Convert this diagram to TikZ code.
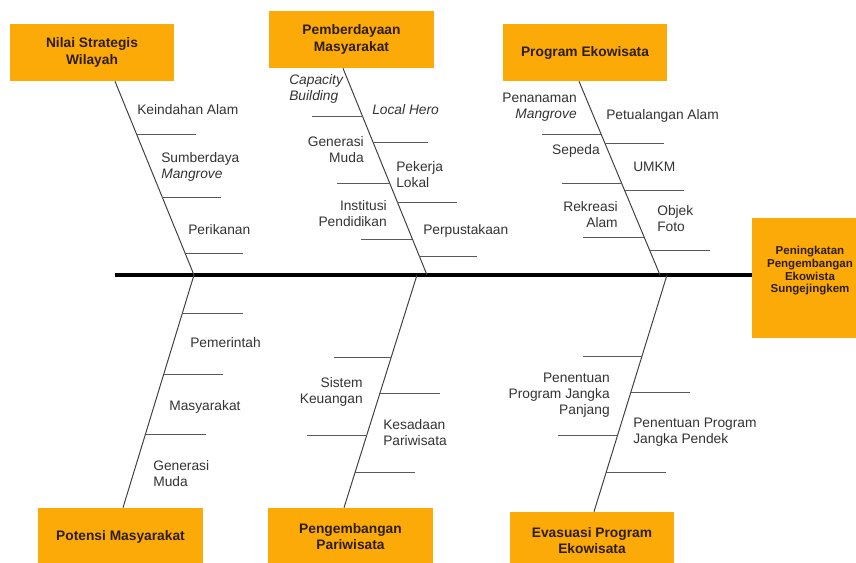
\documentclass[tikz,border=0pt]{standalone}
\usepackage{fontspec}
\setmainfont{Liberation Sans}
\usetikzlibrary{calc}

\definecolor{fishorange}{RGB}{252,170,8}
\definecolor{boxtext}{RGB}{45,30,10}

\tikzset{
  cause/.style={fill=fishorange, minimum width=4.1cm, minimum height=1.425cm,
    align=center, text=boxtext, font=\bfseries\fontsize{9.8}{11.6}\selectfont},
  effect/.style={fill=fishorange, minimum width=2.8cm, minimum height=3cm},
  efftext/.style={align=center, text=boxtext, inner sep=0pt,
    font=\bfseries\fontsize{8.2}{9}\selectfont},
  lbl/.style={inner sep=0pt, text=black!80, font=\fontsize{9.8}{11.4}\selectfont},
  spine/.style={draw=black, line width=2.2pt},
  bone/.style={draw=black!75, line width=0.7pt},
  rib/.style={draw=black!65, line width=0.7pt}
}

\begin{document}
\begin{tikzpicture}[x=0.025cm,y=-0.025cm]
    \useasboundingbox (0,0) rectangle (856,563);

    % cause boxes
    \node[cause] (nilai) at (92,52.5) {Nilai Strategis\\Wilayah};
    \node[cause] (daya) at (351.5,39.5) {Pemberdayaan\\Masyarakat};
    \node[cause] (prog) at (585,52.5) {Program Ekowisata};
    \node[cause] (potensi) at (120.5,536.5) {Potensi Masyarakat};
    \node[cause] (wisata) at (350.5,536.5) {Pengembangan\\Pariwisata};
    \node[cause] (evaluasi) at (592,540.5) {Evasuasi Program\\Ekowisata};

    % effect box (head)
    \node[effect] (hasil) at (808,278) {};
    \node[efftext] (hasiltext) at (810,271) {Peningkatan\\Pengembangan\\Ekowista\\Sungejingkem};

    % spine
    \coordinate (ekor) at (115,275);
    \draw[spine] (ekor) -- (ekor -| hasil.west);

    % joints on the spine
    \coordinate (t1) at (194,275);
    \coordinate (t2) at (427,275);
    \coordinate (t3) at (660,275);
    \coordinate (b2) at (417,275);
    \coordinate (b3) at (667,275);

    % bones
    \draw[bone] ($(nilai.south)+(23,0)$) -- (t1);
    \draw[bone] ($(daya.south)+(-8.5,0)$) -- (t2);
    \draw[bone] ($(prog.south)+(-6,0)$) -- (t3);
    \draw[bone] (t1) -- ($(potensi.north)+(2.5,0)$);
    \draw[bone] (b2) -- ($(wisata.north)+(-6.5,0)$);
    \draw[bone] (b3) -- ($(evaluasi.north)+(2,0)$);

    % ribs
    \foreach \y/\a/\b in {134/137/196, 197/162/221, 253/185/243}
        \draw[rib] (\a,\y) -- (\b,\y);
    \foreach \y/\a/\b in {116/312/362.5, 142/373/428, 183/337/389.7,
                          202/397.4/457, 239/361/412.4, 256/419.3/477}
        \draw[rib] (\a,\y) -- (\b,\y);
    \foreach \y/\a/\b in {134/542/601.1, 143/604.9/664, 183/562/621.6,
                          190/624.5/684, 237/583/644.1, 250/649.6/710}
        \draw[rib] (\a,\y) -- (\b,\y);
    \foreach \y/\a/\b in {313/182.4/243, 374/163.8/223, 434/145.6/206}
        \draw[rib] (\a,\y) -- (\b,\y);
    \foreach \y/\a/\b in {357/334/391.3, 393/380/440, 435/307/366.9, 472/355.3/415}
        \draw[rib] (\a,\y) -- (\b,\y);
    \foreach \y/\a/\b in {356/583/642.1, 392/631/690, 435/558/617.7, 472/606.3/666}
        \draw[rib] (\a,\y) -- (\b,\y);

    % labels: Nilai Strategis Wilayah
    \node[lbl,anchor=west] (kei) at (137,110) {Keindahan Alam};
    \node[lbl,anchor=west,align=left] (sum) at (161,167) {Sumberdaya\\\textit{Mangrove}};
    \node[lbl,anchor=west] (ikan) at (188,230) {Perikanan};

    % labels: Pemberdayaan Masyarakat
    \node[lbl,anchor=west,align=left] (cap) at (289,89) {\textit{Capacity}\\\textit{Building}};
    \node[lbl,anchor=west] (hero) at (372,110) {\textit{Local Hero}};
    \node[lbl,anchor=east,align=right] (gen) at (364,150) {Generasi\\Muda};
    \node[lbl,anchor=west,align=left] (kerja) at (396,175) {Pekerja\\Lokal};
    \node[lbl,anchor=east,align=right] (inst) at (387,214) {Institusi\\Pendidikan};
    \node[lbl,anchor=west] (pus) at (423,231) {Perpustakaan};

    % labels: Program Ekowisata
    \node[lbl,anchor=east,align=right] (tanam) at (577,107) {Penanaman\\\textit{Mangrove}};
    \node[lbl,anchor=west] (tualang) at (606,116) {Petualangan Alam};
    \node[lbl,anchor=east] (sepeda) at (600,151) {Sepeda};
    \node[lbl,anchor=west] (umkm) at (633,167) {UMKM};
    \node[lbl,anchor=east,align=right] (rekreasi) at (618,215) {Rekreasi\\Alam};
    \node[lbl,anchor=west,align=left] (foto) at (657,219) {Objek\\Foto};

    % labels: Potensi Masyarakat
    \node[lbl,anchor=west] (pemda) at (190,343) {Pemerintah};
    \node[lbl,anchor=west] (warga) at (169,407) {Masyarakat};
    \node[lbl,anchor=west,align=left] (muda) at (153,474) {Generasi\\Muda};

    % labels: Pengembangan Pariwisata
    \node[lbl,anchor=east,align=right] (uang) at (363,392) {Sistem\\Keuangan};
    \node[lbl,anchor=west,align=left] (sadar) at (383,433) {Kesadaan\\Pariwisata};

    % labels: Evasuasi Program Ekowisata
    \node[lbl,anchor=east,align=right] (panjang) at (610,395) {Penentuan\\Program Jangka\\Panjang};
    \node[lbl,anchor=west,align=left] (pendek) at (633,432) {Penentuan Program\\Jangka Pendek};
\end{tikzpicture}
\end{document}
